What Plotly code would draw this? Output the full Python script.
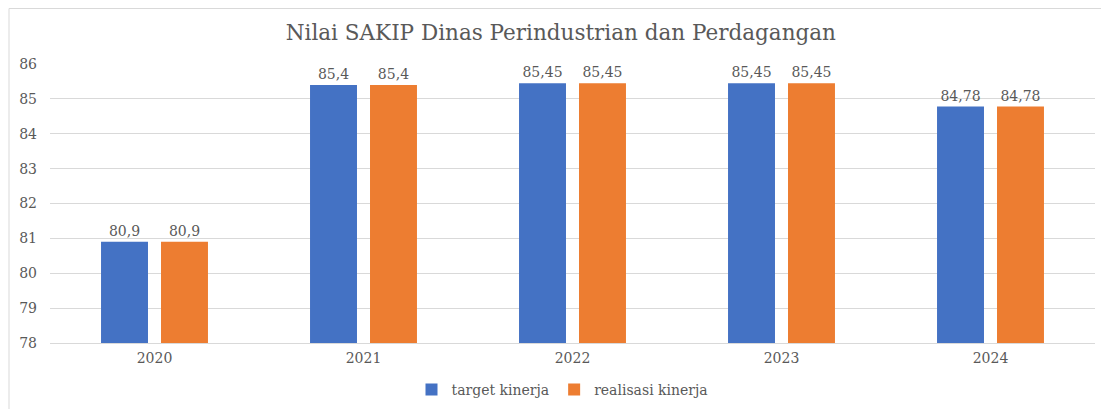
import plotly.graph_objects as go

years = ["2020", "2021", "2022", "2023", "2024"]
target = [80.9, 85.4, 85.45, 85.45, 84.78]
realisasi = [80.9, 85.4, 85.45, 85.45, 84.78]
series_names = ["target kinerja", "realisasi kinerja"]
colors = ["#4472C4", "#ED7D31"]
title_text = "Nilai SAKIP Dinas Perindustrian dan Perdagangan"

FONT = "DejaVu Serif"
GRAY = "#595959"

def fmt(v):
    return str(v).replace(".", ",")

fig = go.Figure()
for name, vals, col in zip(series_names, [target, realisasi], colors):
    fig.add_trace(go.Bar(
        x=years, y=vals, name=name, marker=dict(color=col, line=dict(width=0)),
        text=[fmt(v) for v in vals], textposition="outside", cliponaxis=False,
        textfont=dict(family=FONT, size=14, color=GRAY),
    ))

# page has an 8px body margin, so figure coords = screen coords - 8
fig.update_layout(
    width=1109, height=409,
    margin=dict(l=42, r=22, t=56, b=74, autoexpand=False),
    paper_bgcolor="white", plot_bgcolor="white",
    separators=",.",
    title=dict(text=title_text, x=0.4985, xanchor="center", xref="container",
               y=0.941, yanchor="middle", yref="container",
               font=dict(family=FONT, size=21.5, color=GRAY)),
    bargap=0.426, bargroupgap=0.217,
    font=dict(family=FONT, size=14, color=GRAY),
    legend=dict(orientation="h", x=0.5, xanchor="center", xref="container",
                y=0.066, yanchor="middle", yref="container",
                itemwidth=30, font=dict(family=FONT, size=14, color=GRAY),
                traceorder="normal"),
    xaxis=dict(showline=True, linecolor="#d9d9d9", linewidth=1, ticks="", automargin=False,
               tickfont=dict(family=FONT, size=14, color=GRAY), ticklabelstandoff=2),
    yaxis=dict(range=[78, 86], dtick=1, showgrid=True, gridcolor="#d9d9d9", gridwidth=1,
               zeroline=False, ticks="", automargin=False,
               tickfont=dict(family=FONT, size=14, color=GRAY),
               ticklabelstandoff=12),
    shapes=[dict(type="rect", xref="paper", yref="paper",
                 x0=(1 - 42) / 1045, x1=(1108 - 42) / 1045,
                 y0=-0.35, y1=1 + 55.5 / 279,
                 line=dict(color="#d9d9d9", width=1), layer="below")],
)

fig.write_html("out.html")
